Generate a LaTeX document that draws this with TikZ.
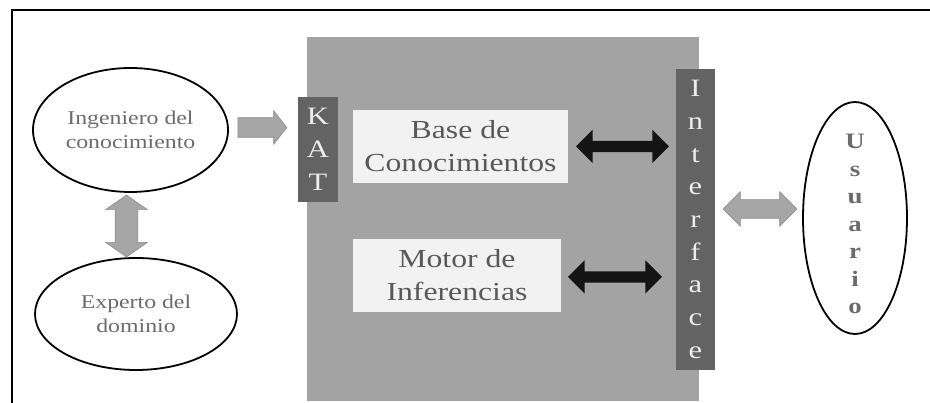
\documentclass[tikz,border=0pt]{standalone}
\usepackage{fontspec}
\setmainfont{Liberation Serif}[FakeStretch=1.22]
\usepackage{tikz}
\usetikzlibrary{shapes.geometric, shapes.arrows, positioning, calc}
\definecolor{panelgray}{HTML}{A3A3A3}
\definecolor{bargray}{HTML}{636363}
\definecolor{boxwhite}{HTML}{F2F2F2}
\definecolor{textgray}{HTML}{595959}
\definecolor{labelgray}{HTML}{6B6B6B}
\definecolor{lettergray}{HTML}{EDEDED}
\definecolor{arrowgray}{HTML}{A6A6A6}
\definecolor{arrowedge}{HTML}{8C8C8C}
\definecolor{arrowblack}{HTML}{141414}
\tikzset{
    base/.style={inner sep=0pt, outer sep=0pt, align=center},
    actor/.style={base, ellipse, draw=black, line width=1.8pt, text=labelgray, font=\fontsize{19.5}{24}\selectfont},
    module/.style={base, rectangle, fill=boxwhite, text=textgray, minimum height=73pt, font=\fontsize{26}{33}\selectfont},
    bar/.style={base, rectangle, fill=bargray, text=lettergray, font=\fontsize{25}{32.7}\selectfont},
    grayarrow/.style={base, fill=arrowgray, draw=arrowedge, line width=0.6pt},
    blackarrow/.style={base, double arrow, fill=arrowblack, inner ysep=5.5pt, double arrow head extend=11pt}
}
\begin{document}
\begin{tikzpicture}[x=1pt, y=1pt]
    \useasboundingbox (0,0) rectangle (930,403);
    \draw [line width=1.5pt] (12,0) -- (12,393) -- (930,393);

    % knowledge based system
    \node [base, fill=panelgray, minimum width=392pt, minimum height=364pt] (KBS) at (503,184) {};
    \node [bar, minimum width=40pt, minimum height=105pt] (KAT) at (318,253.5) {K\\A\\T};
    \node [module, minimum width=215pt] (Base) at (460.5,256.5) {Base de\\Conocimientos};
    \node [module, minimum width=208pt] (Motor) at (457,127.5) {Motor de\\Inferencias};
    \node [bar, minimum width=39pt, minimum height=301pt] (Iface) at (695.5,183.5) {I\\n\\t\\e\\r\\f\\a\\c\\e};

    % people
    \node [actor, minimum width=195pt, minimum height=124pt] (Ing) at (130.5,273) {Ingeniero del\\conocimiento};
    \node [actor, minimum width=202pt, minimum height=112pt] (Exp) at (136,89) {Experto del\\dominio};
    \node [actor, minimum width=104pt, minimum height=232pt] (User) at (855,185) {};
    \node [base, text=labelgray, font=\bfseries\fontsize{22}{27.5}\selectfont] (UserLabel) at ($(User.center)+(0,-6)$) {U\\s\\u\\a\\r\\i\\o};

    % block arrows
    \node [blackarrow, minimum height=93pt] (BaseLink) at ($(Base.east)+(54.5,0)$) {};
    \node [blackarrow, minimum height=94pt] (MotorLink) at ($(Motor.east)+(54,-1.5)$) {};
    \node [grayarrow, double arrow, minimum height=74pt, inner ysep=9pt, double arrow head extend=8pt] (UserLink) at (760,194) {};
    \node [grayarrow, double arrow, rotate=90, minimum height=62pt, inner ysep=11pt, double arrow head extend=9.5pt, double arrow tip angle=110] (ExpLink) at (126.5,177) {};
    \node [grayarrow, single arrow, minimum height=49pt, inner ysep=9.5pt, single arrow head extend=7pt, single arrow tip angle=104] (IngLink) at (258.5,275.5) {};
\end{tikzpicture}
\end{document}
